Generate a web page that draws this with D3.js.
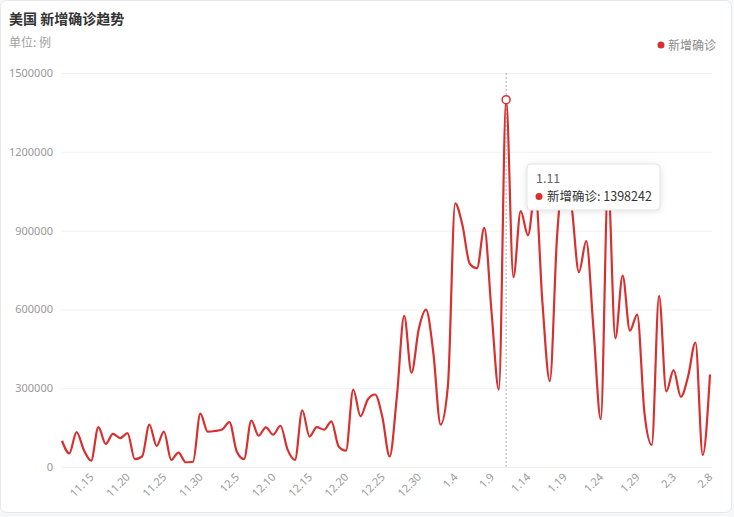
<!DOCTYPE html>
<html>
<head>
<meta charset="utf-8">
<script src="https://cdn.jsdelivr.net/npm/d3@7/dist/d3.min.js"></script>
<style>
  html, body { margin: 0; padding: 0; background: #f6f7f9; }
  svg { display: block; font-family: "Noto Sans CJK SC", "Noto Sans", sans-serif; }
</style>
</head>
<body>
<svg id="chart"></svg>
<script>
// daily dates, 11.11 -> 2.8
const dates = [
  "11.11","11.12","11.13","11.14","11.15","11.16","11.17","11.18","11.19","11.20",
  "11.21","11.22","11.23","11.24","11.25","11.26","11.27","11.28","11.29","11.30",
  "12.1","12.2","12.3","12.4","12.5","12.6","12.7","12.8","12.9","12.10",
  "12.11","12.12","12.13","12.14","12.15","12.16","12.17","12.18","12.19","12.20",
  "12.21","12.22","12.23","12.24","12.25","12.26","12.27","12.28","12.29","12.30",
  "12.31","1.1","1.2","1.3","1.4","1.5","1.6","1.7","1.8","1.9",
  "1.10","1.11","1.12","1.13","1.14","1.15","1.16","1.17","1.18","1.19",
  "1.20","1.21","1.22","1.23","1.24","1.25","1.26","1.27","1.28","1.29",
  "1.30","1.31","2.1","2.2","2.3","2.4","2.5","2.6","2.7","2.8"
];

const newCases = [
  100000, 52000, 133000, 65000, 24000, 152000, 88000, 126000, 110000, 129000,
  30000, 40000, 161000, 80000, 135000, 27000, 55000, 18000, 20000, 203000,
  135000, 137000, 143000, 171000, 59000, 30000, 177000, 119000, 151000, 123000,
  157000, 65000, 27000, 216000, 116000, 152000, 142000, 174000, 78000, 62000,
  295000, 193000, 257000, 276000, 190000, 40000, 270000, 575000, 359000, 525000,
  599000, 435000, 161000, 308000, 1004000, 920000, 774000, 757000, 910000, 589000,
  295000, 1398242, 723000, 974000, 882000, 1050000, 620000, 327000, 880000, 1120000,
  990000, 742000, 860000, 525000, 182000, 1080000, 490000, 729000, 519000, 580000,
  205000, 84000, 652000, 288000, 369000, 267000, 346000, 474000, 46000, 352000
];

const yTicks = [0, 300000, 600000, 900000, 1200000, 1500000];
const xLabels = ["11.15","11.20","11.25","11.30","12.5","12.10","12.15","12.20","12.25","12.30",
  "1.4","1.9","1.14","1.19","1.24","1.29","2.3","2.8"];

const seriesName = "新增确诊";
const hoverDate = "1.11";

var w = 734, h = 517;
var margin = { top: 73, right: 24, bottom: 50, left: 62 };
var red = "#d7302f";

var svg = d3.select("#chart").attr("width", w).attr("height", h);

// card
svg.append("rect")
  .attr("x", 0.5).attr("y", 0.5)
  .attr("width", 731).attr("height", 512)
  .attr("rx", 6)
  .attr("fill", "#fff")
  .attr("stroke", "#e6e7ea");

var x = d3.scalePoint()
  .domain(dates)
  .range([margin.left, 710]);

var y = d3.scaleLinear()
  .domain([0, 1500000])
  .range([467, margin.top]);

// title
svg.append("text")
  .attr("x", 9).attr("y", 24)
  .attr("font-size", 14).attr("font-weight", "bold")
  .attr("fill", "#333")
  .text("美国 新增确诊趋势");

svg.append("text")
  .attr("x", 9).attr("y", 47)
  .attr("font-size", 12)
  .attr("fill", "#a0a0a0")
  .text("单位: 例");

// legend
svg.append("circle")
  .attr("cx", 661).attr("cy", 45).attr("r", 3.5)
  .attr("fill", red);
svg.append("text")
  .attr("x", 668).attr("y", 49.5)
  .attr("font-size", 12)
  .attr("fill", "#8a8a8a")
  .text(seriesName);

// y axis with grid lines
var yAxis = d3.axisLeft(y)
  .tickValues(yTicks)
  .tickSize(-(712 - margin.left))
  .tickPadding(9)
  .tickFormat(d3.format("d"));

var yG = svg.append("g")
  .attr("transform", "translate(" + margin.left + ",0)")
  .call(yAxis);
yG.select(".domain").remove();
yG.selectAll(".tick line").attr("stroke", "#f0f0f2");
yG.selectAll(".tick text")
  .attr("fill", "#999")
  .attr("font-size", 11)
  .attr("font-family", "\"Noto Sans\", sans-serif");

// x axis
var xAxis = d3.axisBottom(x)
  .tickValues(xLabels)
  .tickSize(0)
  .tickPadding(10);

var xG = svg.append("g")
  .attr("transform", "translate(0,467)")
  .call(xAxis);
xG.select(".domain").remove();
xG.selectAll(".tick text")
  .attr("fill", "#999")
  .attr("font-size", 11)
  .attr("font-family", "\"Noto Sans\", sans-serif")
  .attr("text-anchor", "end")
  .attr("dy", "0.35em")
  .attr("transform", "translate(-7,1) rotate(-45)");

// hover guide
svg.append("line")
  .attr("x1", x(hoverDate)).attr("x2", x(hoverDate))
  .attr("y1", margin.top).attr("y2", 467)
  .attr("stroke", "#aaa")
  .attr("stroke-dasharray", "2,2");

// line
var line = d3.line()
  .x(function(d, i) { return x(dates[i]); })
  .y(function(d) { return y(d); })
  .curve(d3.curveMonotoneX);

svg.append("path")
  .datum(newCases)
  .attr("d", line)
  .attr("fill", "none")
  .attr("stroke", red)
  .attr("stroke-width", 2.2);

var hi = dates.indexOf(hoverDate);
svg.append("circle")
  .attr("cx", x(hoverDate)).attr("cy", y(newCases[hi]))
  .attr("r", 4)
  .attr("fill", "#fff")
  .attr("stroke", red)
  .attr("stroke-width", 1.5);

// tooltip
var defs = svg.append("defs");
var f = defs.append("filter").attr("id", "shadow")
  .attr("x", "-20%").attr("y", "-30%").attr("width", "140%").attr("height", "160%");
f.append("feDropShadow")
  .attr("dx", 0).attr("dy", 1).attr("stdDeviation", 3)
  .attr("flood-color", "#000").attr("flood-opacity", 0.12);

var tip = svg.append("g").attr("transform", "translate(527,164)");
tip.append("rect")
  .attr("width", 133).attr("height", 46)
  .attr("rx", 4)
  .attr("fill", "#fff")
  .attr("stroke", "#e3e3e3")
  .attr("filter", "url(#shadow)");
tip.append("text")
  .attr("x", 9).attr("y", 18.5)
  .attr("font-size", 12.5)
  .attr("fill", "#666")
  .text(hoverDate);
tip.append("circle")
  .attr("cx", 12).attr("cy", 32.5).attr("r", 3.5)
  .attr("fill", red);
tip.append("text")
  .attr("x", 20).attr("y", 37)
  .attr("font-size", 12.5)
  .attr("fill", "#333")
  .text(seriesName + ": " + newCases[hi]);
</script>
</body>
</html>
